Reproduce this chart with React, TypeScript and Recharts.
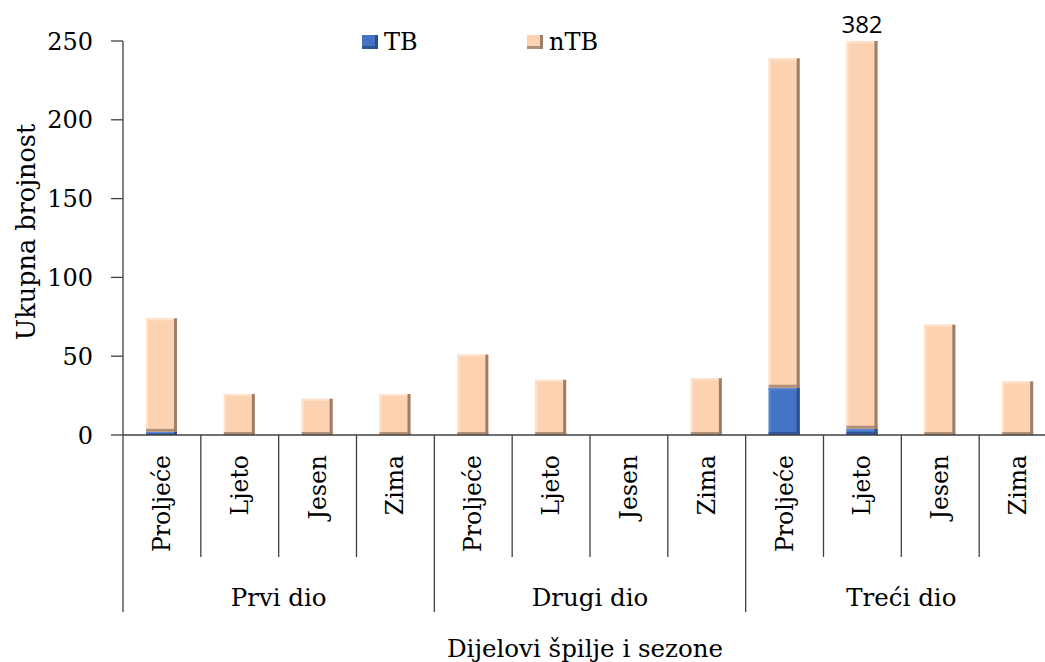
import React from 'react';
import { BarChart, Bar, XAxis, YAxis, Legend, LabelList } from 'recharts';

const seasons = ['Proljeće', 'Ljeto', 'Jesen', 'Zima', 'Proljeće', 'Ljeto', 'Jesen', 'Zima', 'Proljeće', 'Ljeto', 'Jesen', 'Zima'];
const groups = ['Prvi dio', 'Drugi dio', 'Treći dio'];
const tbValues = [2, 0, 0, 0, 0, 0, 0, 0, 30, 4, 0, 0];
const ntbValues = [72, 26, 23, 26, 51, 35, 0, 36, 209, 378, 70, 34];
const yTicks = [0, 50, 100, 150, 200, 250];

const data = seasons.map((s, i) => ({
  key: `k${i}`,
  season: s,
  TB: tbValues[i],
  nTB: ntbValues[i],
  total: tbValues[i] + ntbValues[i],
}));

const FONT = '"DejaVu Serif", serif';
const CHART_W = 1057;
const CHART_H = 662;
const LEFT = 123;
const TOP = 41;
const PLOT_H = 394;
const PLOT_W = CHART_W - LEFT;
const BW = PLOT_W / 12;
const AXIS_Y = TOP + PLOT_H;
const Y_MAX = 250;

const makeBevel = (main: string, dark: string, light: string) => (props: any) => {
  const { x, y, width, height } = props;
  if (!height || height <= 0) return <g />;
  const e = Math.min(3, height / 2);
  return (
    <g>
      <rect x={x} y={y} width={width} height={height} fill={main} />
      <rect x={x} y={y} width={width} height={Math.min(2, e)} fill={light} />
      <rect x={x} y={y} width={2} height={height} fill={light} />
      <rect x={x + width - 3} y={y} width={3} height={height} fill={dark} />
      <rect x={x} y={y + height - e} width={width} height={e} fill={dark} opacity={0.8} />
    </g>
  );
};

const tbShape = makeBevel('#4472C4', '#2C4E8C', '#5A86D6');
const ntbShape = makeBevel('#FDD2B1', '#9C7E69', '#FFE2CC');

const XTick = (props: any) => {
  const { x, payload } = props;
  const i = payload.index;
  const y0 = AXIS_Y;
  const right = x + BW / 2;
  const left = x - BW / 2;
  const isGroupEnd = i % 4 === 3;
  return (
    <g>
      {i === 0 && <line x1={left} x2={left} y1={y0} y2={612} stroke="#404040" strokeWidth={1.3} />}
      <line x1={right} x2={right} y1={y0} y2={isGroupEnd ? 612 : 557} stroke="#404040" strokeWidth={1.3} />
      <text
        x={x}
        y={455}
        transform={`rotate(-90 ${x} 455)`}
        textAnchor="end"
        dominantBaseline="central"
        fontFamily={FONT}
        fontSize={23.5}
        fill="#000"
      >
        {seasons[i]}
      </text>
      {i % 4 === 1 && (
        <text x={right} y={597} textAnchor="middle" dominantBaseline="central" fontFamily={FONT} fontSize={24.5} fill="#000">
          {groups[Math.floor(i / 4)]}
        </text>
      )}
    </g>
  );
};

const OverflowLabel = (props: any) => {
  const { x, width, index } = props;
  const d = data[index];
  if (!d || d.total <= Y_MAX) return null;
  return (
    <text x={x + width / 2} y={TOP - 8} textAnchor="middle" fontFamily='"Open Sans", sans-serif' fontSize={24} fill="#000">
      {d.total}
    </text>
  );
};

const LegendContent = (props: any) => {
  const { payload } = props;
  return (
    <div style={{ display: 'flex', alignItems: 'center', fontFamily: FONT, fontSize: 24, color: '#000' }}>
      {(payload || []).map((p: any, k: number) => (
        <div key={k} style={{ display: 'flex', alignItems: 'center', width: k === 0 ? 165 : 100 }}>
          <svg width={16} height={14} style={{ marginRight: 6 }}>
            <rect x={0} y={0} width={16} height={14} fill={p.color} />
            <rect x={13} y={0} width={3} height={14} fill={k === 0 ? '#2C4E8C' : '#9C7E69'} />
            <rect x={0} y={11} width={16} height={3} fill={k === 0 ? '#2C4E8C' : '#9C7E69'} opacity={0.8} />
          </svg>
          <span>{p.value}</span>
        </div>
      ))}
    </div>
  );
};

export default function App() {
  return (
    <div style={{ position: 'fixed', left: 0, top: 0, width: 1045, height: 662, overflow: 'hidden', background: '#fff' }}>
      <BarChart width={CHART_W} height={CHART_H} data={data} margin={{ top: TOP, right: 0, bottom: 0, left: 0 }} barSize={31}>
        <YAxis
          width={LEFT}
          domain={[0, Y_MAX]}
          ticks={yTicks}
          allowDataOverflow
          interval={0}
          tickSize={12}
          tickMargin={18}
          axisLine={{ stroke: '#404040', strokeWidth: 1.3 }}
          tickLine={{ stroke: '#404040', strokeWidth: 1.3 }}
          tick={{ fontFamily: FONT, fontSize: 24, fill: '#000' }}
          label={{
            content: () => (
              <text x={26} y={232} transform="rotate(-90 26 232)" textAnchor="middle" dominantBaseline="central" fontFamily={FONT} fontSize={25.5} fill="#000">
                Ukupna brojnost
              </text>
            ),
          }}
        />
        <XAxis
          dataKey="key"
          height={CHART_H - AXIS_Y}
          interval={0}
          tickSize={0}
          tickMargin={0}
          tickLine={false}
          axisLine={{ stroke: '#404040', strokeWidth: 1.3 }}
          tick={<XTick />}
          label={{
            content: () => (
              <text x={585} y={648} textAnchor="middle" dominantBaseline="central" fontFamily={FONT} fontSize={24.5} fill="#000">
                Dijelovi špilje i sezone
              </text>
            ),
          }}
        />
        <Legend
          verticalAlign="middle"
          align="center"
          content={<LegendContent />}
          wrapperStyle={{ position: 'absolute', left: 362, top: 28, width: 320 }}
        />
        <Bar dataKey="TB" name="TB" stackId="s" fill="#4472C4" shape={tbShape} isAnimationActive={false} />
        <Bar dataKey="nTB" name="nTB" stackId="s" fill="#FDD2B1" shape={ntbShape} isAnimationActive={false}>
          <LabelList dataKey="nTB" content={<OverflowLabel />} />
        </Bar>
      </BarChart>
    </div>
  );
}
